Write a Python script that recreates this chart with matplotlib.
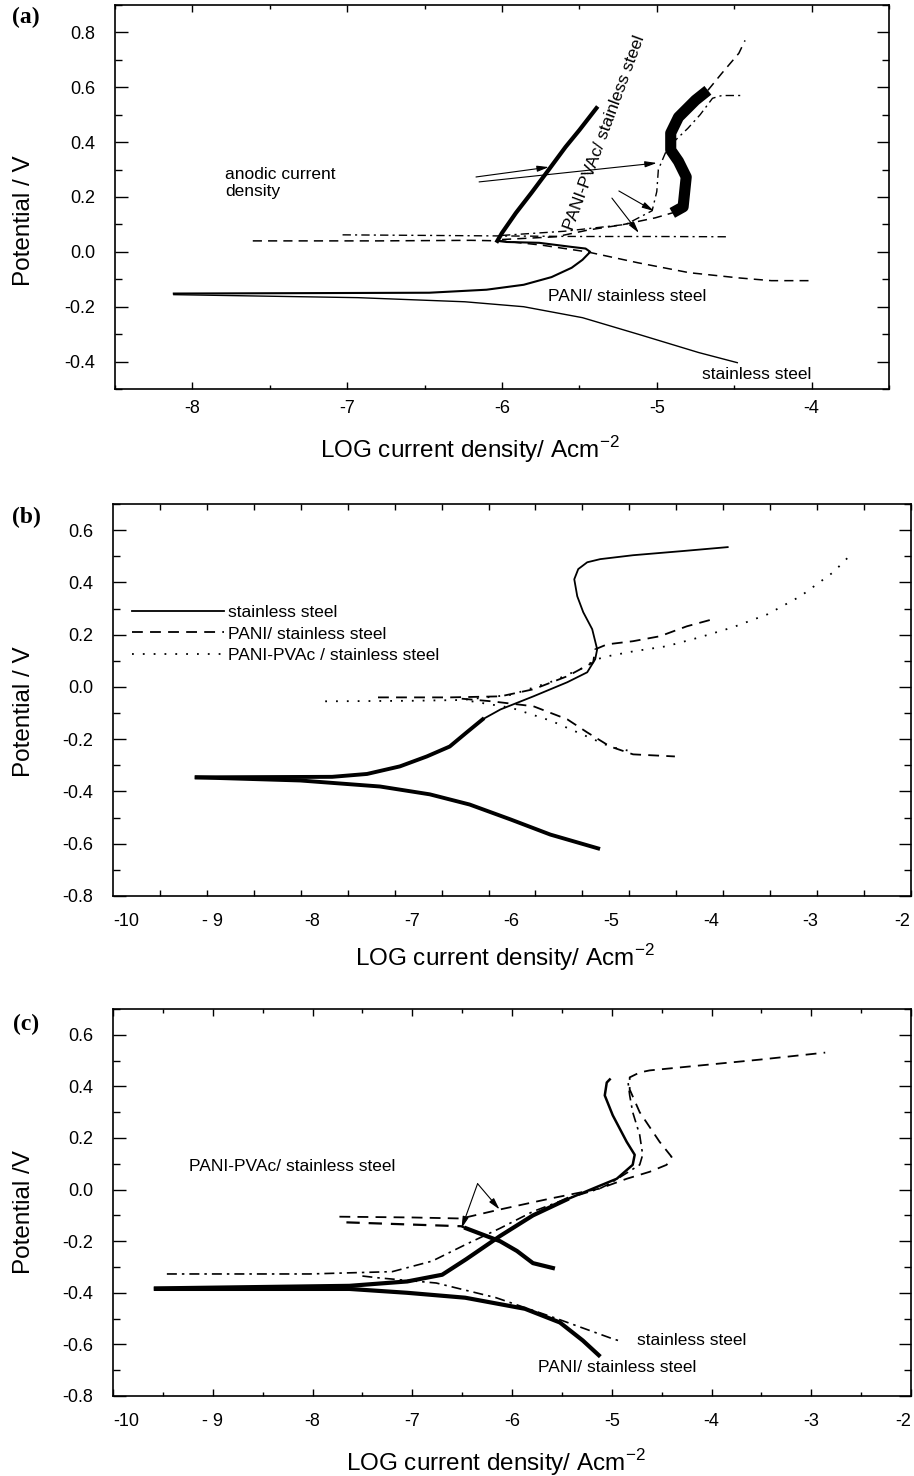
import numpy as np
import matplotlib
matplotlib.use('Agg')
import matplotlib.pyplot as plt

plt.rcParams['font.family'] = ['Liberation Sans', 'DejaVu Sans']
plt.rcParams['axes.unicode_minus'] = False
plt.rcParams['mathtext.fontset'] = 'custom'
plt.rcParams['mathtext.rm'] = 'Liberation Sans'

# ---------------- panel (a) data ----------------
a_ss_cath_x = [-8.12, -6.93, -6.24, -5.86, -5.48, -5.11, -4.73, -4.48]
a_ss_cath_y = [-0.156, -0.167, -0.182, -0.200, -0.240, -0.302, -0.367, -0.404]
a_loop_x = [-8.12, -6.47, -6.10, -5.86, -5.68, -5.55, -5.48, -5.43, -5.46, -5.55, -5.76, -5.97, -6.03]
a_loop_y = [-0.152, -0.149, -0.138, -0.120, -0.092, -0.058, -0.029, 0.000, 0.012, 0.018, 0.033, 0.036, 0.040]
a_thick_x = [-6.03, -6.00, -5.91, -5.81, -5.70, -5.59, -5.50, -5.39]
a_thick_y = [0.040, 0.069, 0.142, 0.215, 0.298, 0.382, 0.444, 0.524]
a_pani_cath_x = [-7.61, -6.80, -6.20, -6.00, -5.75, -5.45, -5.12, -4.79, -4.47, -4.26, -4.02]
a_pani_cath_y = [0.040, 0.040, 0.042, 0.040, 0.025, 0.000, -0.040, -0.076, -0.095, -0.105, -0.105]
a_pani_an_x = [-6.00, -5.65, -5.44, -5.23, -5.01, -4.90, -4.83, -4.81, -4.86, -4.91,
               -4.91, -4.86, -4.75, -4.67, -4.58, -4.47, -4.43]
a_pani_an_y = [0.045, 0.055, 0.080, 0.098, 0.124, 0.142, 0.164, 0.273, 0.330, 0.371,
               0.433, 0.491, 0.553, 0.589, 0.651, 0.724, 0.771]
a_pvac_flat_x = [-7.03, -6.50, -6.00, -5.50, -5.00, -4.55]
a_pvac_flat_y = [0.062, 0.060, 0.058, 0.056, 0.056, 0.055]
a_pvac_an_x = [-6.00, -5.60, -5.20, -5.03, -5.00, -4.99, -4.93, -4.80, -4.72, -4.64, -4.58, -4.45]
a_pvac_an_y = [0.060, 0.075, 0.100, 0.150, 0.220, 0.300, 0.380, 0.450, 0.500, 0.560, 0.570, 0.570]

# ---------------- panel (b) data ----------------
b_ss_an_x = [-9.16, -7.80, -7.45, -7.12, -6.85, -6.62, -6.45, -6.29, -6.11, -5.78, -5.44, -5.24, -5.16,
             -5.14, -5.19, -5.28, -5.34, -5.37, -5.33, -5.24, -5.11, -4.78, -4.28, -3.83]
b_ss_an_y = [-0.346, -0.344, -0.333, -0.304, -0.266, -0.228, -0.174, -0.124, -0.086, -0.036, 0.018, 0.056, 0.106,
             0.144, 0.221, 0.286, 0.347, 0.412, 0.451, 0.477, 0.489, 0.504, 0.520, 0.535]
b_ss_cath_x = [-9.16, -8.12, -7.32, -6.82, -6.42, -6.01, -5.61, -5.13]
b_ss_cath_y = [-0.346, -0.358, -0.381, -0.411, -0.450, -0.507, -0.565, -0.618]
b_pani_an_x = [-7.34, -6.62, -6.11, -5.78, -5.44, -5.18, -5.16, -5.04, -4.78, -4.51, -4.24, -3.98]
b_pani_an_y = [-0.040, -0.040, -0.036, -0.009, 0.041, 0.094, 0.144, 0.163, 0.175, 0.194, 0.232, 0.259]
b_pani_cath_x = [-6.50, -6.20, -5.78, -5.44, -5.24, -5.01, -4.78, -4.36]
b_pani_cath_y = [-0.045, -0.055, -0.074, -0.124, -0.174, -0.228, -0.258, -0.266]
b_pvac_an_x = [-7.87, -7.00, -6.50, -6.00, -5.60, -5.30, -5.15, -5.04, -4.78, -4.44,
               -4.11, -3.78, -3.43, -3.10, -2.77, -2.60]
b_pvac_an_y = [-0.055, -0.053, -0.050, -0.030, 0.020, 0.070, 0.105, 0.117, 0.136, 0.156,
               0.190, 0.228, 0.278, 0.347, 0.439, 0.504]
b_pvac_cath_x = [-6.40, -6.00, -5.60, -5.30, -5.00, -4.75]
b_pvac_cath_y = [-0.055, -0.080, -0.130, -0.180, -0.230, -0.250]

# ---------------- panel (c) data ----------------
c_pani_cath_x = [-9.57, -7.63, -7.05, -6.47, -5.87, -5.52, -5.29, -5.13]
c_pani_cath_y = [-0.385, -0.385, -0.400, -0.419, -0.462, -0.515, -0.585, -0.642]
c_pani_an_x = [-9.57, -7.63, -7.05, -6.70, -6.46, -6.12, -5.79, -5.45, -5.12, -4.95,
               -4.79, -4.77, -4.85, -4.99, -5.07, -5.05, -5.02]
c_pani_an_y = [-0.383, -0.373, -0.356, -0.330, -0.270, -0.180, -0.100, -0.038, 0.015, 0.042,
               0.096, 0.135, 0.185, 0.288, 0.365, 0.415, 0.427]
c_ss_an_x = [-9.46, -8.03, -7.20, -6.80, -6.46, -6.12, -5.79, -5.45, -5.12, -5.02,
             -4.72, -4.69, -4.72, -4.79, -4.82, -4.84]
c_ss_an_y = [-0.327, -0.327, -0.318, -0.277, -0.212, -0.150, -0.085, -0.035, 0.004, 0.023,
             0.096, 0.135, 0.212, 0.300, 0.365, 0.427]
c_ss_cath_x = [-7.50, -7.34, -6.76, -6.16, -5.58, -5.00, -4.91]
c_ss_cath_y = [-0.335, -0.342, -0.362, -0.419, -0.496, -0.577, -0.588]
c_pvac_an_x = [-7.73, -7.00, -6.51, -6.12, -5.62, -5.12, -4.85, -4.62, -4.45, -4.40,
               -4.52, -4.72, -4.82, -4.82, -4.72, -4.62, -4.12, -3.51, -2.86]
c_pvac_an_y = [-0.105, -0.108, -0.112, -0.077, -0.035, 0.004, 0.042, 0.069, 0.096, 0.127,
               0.185, 0.300, 0.388, 0.435, 0.454, 0.462, 0.481, 0.504, 0.531]
c_pvac_cath_x = [-7.66, -6.51, -6.46, -6.12, -5.95, -5.79, -5.59]
c_pvac_cath_y = [-0.127, -0.142, -0.150, -0.200, -0.238, -0.285, -0.304]

# tick positions / labels
a_xticks = [-8, -7, -6, -5, -4]
a_yticks = [-0.4, -0.2, 0.0, 0.2, 0.4, 0.6, 0.8]
bc_xticks = [-10, -9, -8, -7, -6, -5, -4, -3, -2]
bc_xticklabels = ['-10', '- 9', '-8', '-7', '-6', '-5', '-4', '-3', '-2']
bc_yticks = [-0.8, -0.6, -0.4, -0.2, 0.0, 0.2, 0.4, 0.6]

DASH = (0, (6, 4))
DASHDOT = (0, (6, 3, 1.5, 3))
DOT = (0, (1, 5))
TXT = 12.5
LAB = 17.5

W, H = 914, 1476
fig = plt.figure(figsize=(W / 100, H / 100), dpi=100)


def add_axes(l, t, r, b):
    return fig.add_axes([l / W, 1 - b / H, (r - l) / W, (b - t) / H])


def style(ax):
    ax.tick_params(which='both', direction='in', top=True, right=True, labelsize=13, width=1)
    ax.tick_params(axis='y', which='major', length=9, pad=14)
    ax.tick_params(axis='y', which='minor', length=5)
    ax.tick_params(axis='x', which='major', length=5, pad=8)
    ax.tick_params(axis='x', which='minor', length=3)
    for s in ax.spines.values():
        s.set_linewidth(1.2)


def edge_labels(ax):
    # keep the end labels inside the frame like the original
    labs = ax.get_xticklabels()
    labs[0].set_ha('left')
    labs[-1].set_ha('right')


def arrow(ax, start, end):
    ax.annotate('', xy=end, xytext=start,
                arrowprops=dict(arrowstyle='-|>,head_length=0.7,head_width=0.18',
                                lw=0.8, color='k', shrinkA=0, shrinkB=0))


# ================= (a) =================
ax = add_axes(115, 5, 889, 389)
style(ax)
ax.plot(a_ss_cath_x, a_ss_cath_y, 'k-', lw=1.0)
ax.plot(a_loop_x, a_loop_y, 'k-', lw=1.5)
ax.plot(a_thick_x, a_thick_y, 'k-', lw=3.0)
ax.plot(a_pani_cath_x, a_pani_cath_y, color='k', ls=DASH, lw=1.1)
px, py = np.array(a_pani_an_x), np.array(a_pani_an_y)
ax.plot(px[:7], py[:7], color='k', ls=DASH, lw=1.1)
ax.plot(px[5:14], py[5:14], 'k-', lw=8, solid_capstyle='butt')
ax.plot(px[13:], py[13:], color='k', ls=DASH, lw=1.1)
ax.plot(a_pvac_flat_x, a_pvac_flat_y, color='k', ls=DASHDOT, lw=1.0)
ax.plot(a_pvac_an_x, a_pvac_an_y, color='k', ls=DASHDOT, lw=1.0)

ax.text(-7.79, 0.25, 'anodic current\ndensity', fontsize=TXT, ha='left', va='center', linespacing=1.15)
ax.text(-5.335, 0.436, 'PANI-PVAc/ stainless steel', fontsize=TXT, rotation=69.7,
        rotation_mode='anchor', ha='center', va='center')
ax.text(-5.70, -0.164, 'PANI/ stainless steel', fontsize=TXT, ha='left', va='center')
ax.text(-4.71, -0.447, 'stainless steel', fontsize=TXT, ha='left', va='center')
arrow(ax, (-6.168, 0.273), (-5.697, 0.309))
arrow(ax, (-6.148, 0.255), (-5.00, 0.324))
arrow(ax, (-5.245, 0.222), (-5.019, 0.149))
arrow(ax, (-5.29, 0.196), (-5.116, 0.069))

ax.set_xlim(-8.5, -3.5)
ax.set_ylim(-0.5, 0.9)
ax.set_xticks(a_xticks)
ax.set_xticks(np.arange(-8.5, -3.4, 0.5), minor=True)
ax.set_yticks(a_yticks)
ax.set_yticks(np.arange(-0.5, 0.91, 0.1), minor=True)
ax.yaxis.set_major_formatter(plt.FormatStrFormatter('%.1f'))
ax.set_xlabel('LOG current density/ Acm$^{-2}$', fontsize=LAB, va='center')
ax.xaxis.set_label_coords((470 - 115) / 774, -(450 - 389) / 384)
ax.set_ylabel('Potential / V', fontsize=LAB, va='center', ha='center')
ax.yaxis.set_label_coords((24 - 115) / 774, 1 - (221 - 5) / 384)

# ================= (b) =================
ax = add_axes(113, 504, 911, 896)
style(ax)
sx, sy = np.array(b_ss_an_x), np.array(b_ss_an_y)
l1, = ax.plot(sx, sy, 'k-', lw=1.3, label='stainless steel')
ax.plot(sx[:8], sy[:8], 'k-', lw=2.8)
ax.plot(b_ss_cath_x, b_ss_cath_y, 'k-', lw=2.8)
l2, = ax.plot(b_pani_an_x, b_pani_an_y, color='k', ls=DASH, lw=1.3, label='PANI/ stainless steel')
ax.plot(b_pani_cath_x, b_pani_cath_y, color='k', ls=DASH, lw=1.3)
l3, = ax.plot(b_pvac_an_x, b_pvac_an_y, color='k', ls=DOT, lw=1.3, label='PANI-PVAc / stainless steel')
ax.plot(b_pvac_cath_x, b_pvac_cath_y, color='k', ls=DOT, lw=1.3)
ax.legend(handles=[l1, l2, l3], loc='upper left', bbox_to_anchor=((132 - 113) / 798, (896 - 605) / 392),
          frameon=False, fontsize=TXT, borderpad=0, borderaxespad=0, handlelength=5.3,
          handletextpad=0.25, labelspacing=0.36)

ax.set_xlim(-10, -2)
ax.set_ylim(-0.8, 0.7)
ax.set_xticks(bc_xticks)
ax.set_xticklabels(bc_xticklabels)
edge_labels(ax)
ax.set_xticks(np.linspace(-10, -1.99, 18), minor=True)
ax.tick_params(axis='x', which='major', length=0, pad=12)
ax.tick_params(axis='x', which='minor', length=4)
ax.set_yticks(bc_yticks)
ax.set_yticks(np.arange(-0.8, 0.71, 0.1), minor=True)
ax.yaxis.set_major_formatter(plt.FormatStrFormatter('%.1f'))
ax.set_xlabel('LOG current density/ Acm$^{-2}$', fontsize=LAB, va='center')
ax.xaxis.set_label_coords((505 - 113) / 798, -(958 - 896) / 392)
ax.set_ylabel('Potential / V', fontsize=LAB, va='center', ha='center')
ax.yaxis.set_label_coords((24 - 113) / 798, 1 - (712 - 504) / 392)

# ================= (c) =================
ax = add_axes(113, 1009, 911, 1396)
style(ax)
cx, cy = np.array(c_pani_an_x), np.array(c_pani_an_y)
ax.plot(c_pani_cath_x, c_pani_cath_y, 'k-', lw=3.0)
ax.plot(cx[:8], cy[:8], 'k-', lw=3.0)
ax.plot(cx[7:], cy[7:], 'k-', lw=1.8)
ax.plot(c_ss_an_x, c_ss_an_y, color='k', ls=DASHDOT, lw=1.2)
ax.plot(c_ss_cath_x, c_ss_cath_y, color='k', ls=DASHDOT, lw=1.2)
ax.plot(c_pvac_an_x, c_pvac_an_y, color='k', ls=DASH, lw=1.3)
vx, vy = np.array(c_pvac_cath_x), np.array(c_pvac_cath_y)
ax.plot(vx[:3], vy[:3], color='k', ls=DASH, lw=1.6)
ax.plot(vx[2:], vy[2:], 'k-', lw=3.0)

ax.text(-9.24, 0.088, 'PANI-PVAc/ stainless steel', fontsize=TXT, ha='left', va='center')
ax.text(-4.75, -0.585, 'stainless steel', fontsize=TXT, ha='left', va='center')
ax.text(-5.74, -0.69, 'PANI/ stainless steel', fontsize=TXT, ha='left', va='center')
arrow(ax, (-6.345, 0.023), (-6.125, -0.077))
arrow(ax, (-6.345, 0.023), (-6.506, -0.150))

ax.set_xlim(-10, -2)
ax.set_ylim(-0.8, 0.7)
ax.set_xticks(bc_xticks)
ax.set_xticklabels(bc_xticklabels)
edge_labels(ax)
ax.set_xticks(np.arange(-10, -1.9, 0.5), minor=True)
ax.set_yticks(bc_yticks)
ax.set_yticks(np.arange(-0.8, 0.71, 0.1), minor=True)
ax.yaxis.set_major_formatter(plt.FormatStrFormatter('%.1f'))
ax.tick_params(axis='x', which='major', pad=12)
ax.set_xlabel('LOG current density/ Acm$^{-2}$', fontsize=LAB, va='center')
ax.xaxis.set_label_coords((496 - 113) / 798, -(1463 - 1396) / 387)
ax.set_ylabel('Potential /V', fontsize=LAB, va='center', ha='center')
ax.yaxis.set_label_coords((24 - 113) / 798, 1 - (1212 - 1009) / 387)

# panel letters
for lab, ypix in [('(a)', 17), ('(b)', 517), ('(c)', 1024)]:
    fig.text(26 / W, 1 - ypix / H, lab, family='Liberation Serif', weight='bold',
             fontsize=17, ha='center', va='center')

fig.savefig('out.png', dpi=100)
